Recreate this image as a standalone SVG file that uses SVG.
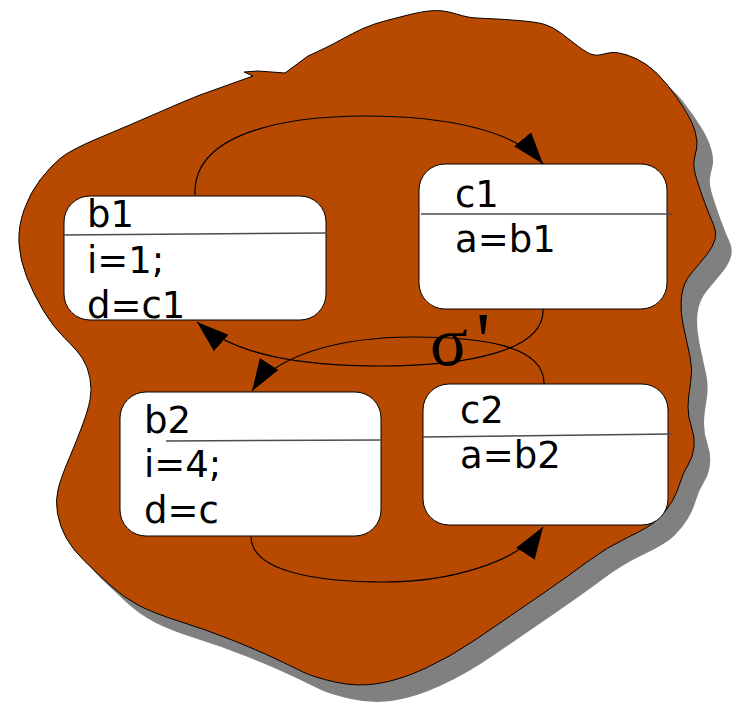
<svg xmlns="http://www.w3.org/2000/svg" width="742" height="707" viewBox="0 0 742 707">
<style>
.node rect{fill:#fff;stroke:#000;stroke-width:1}
.node line{stroke:#4d4d4d;stroke-width:1.5}
.node text{font-family:"DejaVu Sans","Liberation Sans",sans-serif;font-size:37px;fill:#000}
.conn path{fill:none;stroke:#000;stroke-width:1.2}
</style>
<defs>
<path id="blob" d="M200,95 L253,76 L244,72 L258,71 L285,73 L308,56 Q328,47 340.5,40 Q353,33 363,28.5 Q373,24 386.5,20.5 Q400,17 410,14.5 Q420,12 428.5,11 Q437,10 443.5,11 Q450,12 456.5,14 Q463,16 468,17 Q473,18 486.5,18.5 Q500,19 518.5,20.5 Q537,22 545,24.5 Q553,27 561.5,33.5 Q570,40 578.5,46.5 Q587,53 592,54.5 Q597,56 602,54.5 Q607,53 612,52.5 Q617,52 627,55 Q637,58 647,65 Q657,72 667,84.5 Q677,97 685,110 Q693,123 695.5,133 Q698,143 696.5,149 Q695,155 694,161 Q693,167 696.5,178.5 Q700,190 705,203.5 Q710,217 713.5,224.5 Q717,232 715,239.5 Q713,247 706.5,255 Q700,263 691.5,273 Q683,283 681.5,296.5 Q680,310 683.5,326.5 Q687,343 690,356.5 Q693,370 690.5,383.5 Q688,397 688,407 Q688,417 691.5,427 Q695,437 694,447 Q693,457 688,465 Q683,473 680,483 Q677,493 672,501.5 Q667,510 658.5,518.5 Q650,527 628.5,537 Q607,547 587,562 Q567,577 533.5,600 Q500,623 475,640 Q450,657 425,668.5 Q400,680 378.5,683.5 Q357,687 335,682 Q313,677 303,672 Q293,667 275,658.5 Q257,650 232,640 Q207,630 180,621.5 Q153,613 138,605 Q123,597 110,585 Q97,573 85,561.5 Q73,550 66.5,538.5 Q60,527 57.5,513.5 Q55,500 58.5,487.5 Q62,475 69.5,457.5 Q77,440 82.5,425 Q88,410 90,400 Q92,390 90,378.5 Q88,367 82.5,358.5 Q77,350 65,338.5 Q53,327 43,310 Q33,293 26.5,276.5 Q20,260 19,243.5 Q18,227 24,210 Q30,193 40,180 Q50,167 60,158.5 Q70,150 100,137.5 Q130,125 158.5,112.5 Q187,100 200,95 Z"/>
<marker id="arr" markerUnits="userSpaceOnUse" markerWidth="34" markerHeight="24" refX="32" refY="11" orient="auto">
<path d="M0,0 L32,11 L0,22 Z" fill="#000"/>
</marker>
</defs>
<g id="background">
<use href="#blob" transform="translate(16,17)" fill="#808080"/>
<use href="#blob" fill="#b84900" stroke="#000" stroke-width="1"/>
</g>
<g id="b1" class="node">
<rect x="64" y="196" width="262" height="124" rx="26"/>
<line x1="64" y1="235" x2="327" y2="233"/>
<text x="87" y="227">b1</text>
<text x="87" y="273">i=1;</text>
<text x="87" y="318">d=c1</text>
</g>
<g id="c1" class="node">
<rect x="419" y="164" width="248" height="145" rx="26"/>
<line x1="421" y1="214" x2="672" y2="214"/>
<text x="455" y="207">c1</text>
<text x="455" y="252">a=b1</text>
</g>
<g id="b2" class="node">
<rect x="120" y="392" width="261" height="144" rx="26"/>
<line x1="166" y1="441" x2="381" y2="440"/>
<text x="144" y="433">b2</text>
<text x="144" y="477">i=4;</text>
<text x="144" y="523">d=c</text>
</g>
<g id="c2" class="node">
<rect x="423" y="384" width="245" height="141" rx="26"/>
<line x1="423" y1="437" x2="672" y2="434"/>
<text x="460" y="423">c2</text>
<text x="460" y="468">a=b2</text>
</g>
<g id="connectors" class="conn">
<path d="M195,195 C192,128 300,116 365,116 C445,116 515,130 543,164" marker-end="url(#arr)"/>
<path d="M543,309 C545,350 470,366 380,366 C300,366 235,355 197,322" marker-end="url(#arr)"/>
<path d="M544,384 C545,345 480,337 413,337 C340,337 275,355 252,391" marker-end="url(#arr)"/>
<path d="M251,537 C252,575 330,582 384,582 C450,582 520,562 543,527" marker-end="url(#arr)"/>
</g>
<g id="label">
<text x="430" y="365" font-family="Liberation Serif, serif" font-size="70" fill="#000">σ<tspan x="476" y="368" font-size="80">'</tspan></text>
</g>
</svg>
